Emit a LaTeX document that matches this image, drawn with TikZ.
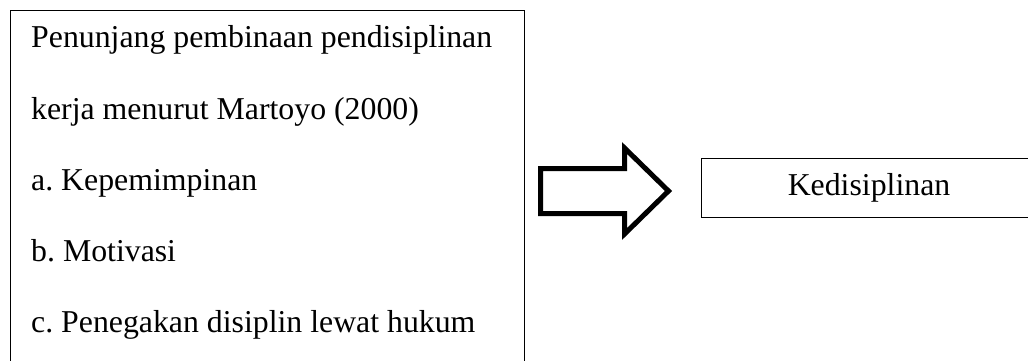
\documentclass[tikz,border=0pt]{standalone}
\usepackage{fontspec}
\setmainfont{Liberation Serif}
\frenchspacing
\usetikzlibrary{positioning}

\begin{document}
\begin{tikzpicture}[
  x=1pt, y=-1pt,
  font=\fontsize{31.8}{38}\selectfont,
  box/.style={draw, line width=0.9pt, inner sep=0pt},
  item/.style={anchor=base west, inner sep=0pt},
  bigarrow/.style={draw, line width=5pt, line join=miter},
]
\useasboundingbox (0,0) rectangle (1028,361);
\clip (0,0) rectangle (1028,361);
% left box, its bottom edge lies below the page
\node[box, anchor=north west, minimum width=514pt, minimum height=400pt] (penunjang) at (10,10) {};
\foreach \txt [count=\i from 0] in {{Penunjang pembinaan pendisiplinan}, {kerja menurut Martoyo (2000)}, {a. Kepemimpinan}, {b. Motivasi}, {c. Penegakan disiplin lewat hukum}}
  \node[item] (line\i) at (31,48+71*\i) {\txt};

% right box, runs past the right edge
\node[box, minimum width=336pt, minimum height=59pt] (kedisiplinan) at (869,187.5) {Kedisiplinan};

% block arrow
\draw[bigarrow] (540.5,168.5) -- (624.5,168.5) -- (624.5,148) -- (668.5,191)
  -- (624.5,234) -- (624.5,213.5) -- (540.5,213.5) -- cycle;
\end{tikzpicture}
\end{document}
